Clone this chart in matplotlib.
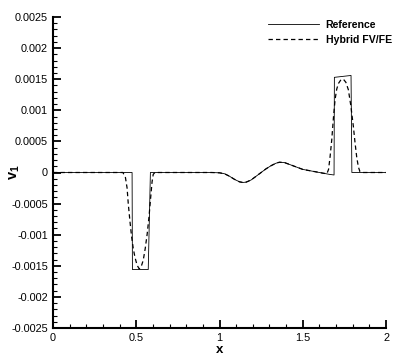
import matplotlib
matplotlib.use("Agg")
import matplotlib.pyplot as plt
from matplotlib.ticker import MultipleLocator, FixedLocator, FixedFormatter

plt.rcParams['font.family'] = ['Liberation Sans', 'DejaVu Sans']
plt.rcParams['mathtext.fontset'] = 'custom'
plt.rcParams['mathtext.rm'] = 'Liberation Sans'
plt.rcParams['mathtext.bf'] = 'Liberation Sans:bold'

# Reference solution (solid)
ref_x = [0.0, 0.475, 0.477, 0.572, 0.585, 0.95, 1.0, 1.03, 1.06, 1.09, 1.12, 1.14,
         1.16, 1.19, 1.22, 1.25, 1.28, 1.31, 1.34, 1.36, 1.39, 1.42, 1.46, 1.50,
         1.54, 1.58, 1.62, 1.66, 1.688, 1.690, 1.790, 1.795, 2.0]
ref_v = [0.0, 0.0, -0.00156, -0.00156, 0.0, 0.0, -0.000005, -0.00002, -0.00006,
         -0.00011, -0.00015, -0.00016, -0.000155, -0.00012, -0.00006, 0.0, 0.00006,
         0.00011, 0.00015, 0.000165, 0.00016, 0.00013, 0.00009, 0.00005, 0.00003,
         0.00001, -0.00001, -0.00003, -0.00004, 0.00153, 0.00156, 0.0, 0.0]

# Hybrid FV/FE solution (dashed)
fvfe_x = [0.0, 0.42, 0.435, 0.445, 0.452, 0.462, 0.472, 0.482, 0.492, 0.505, 0.518,
          0.530, 0.542, 0.554, 0.566, 0.577, 0.587, 0.595, 0.602, 0.612, 0.95, 1.0,
          1.03, 1.06, 1.09, 1.12, 1.14, 1.16, 1.19, 1.22, 1.25, 1.28, 1.31, 1.34,
          1.36, 1.39, 1.42, 1.46, 1.50, 1.54, 1.58, 1.62, 1.645, 1.655, 1.664, 1.674,
          1.684, 1.694, 1.704, 1.714, 1.729, 1.744, 1.759, 1.774, 1.789, 1.804, 1.814,
          1.824, 1.834, 1.844, 1.86, 2.0]
fvfe_v = [0.0, 0.0, -0.00008, -0.00025, -0.0005, -0.00078, -0.00103, -0.00122,
          -0.00136, -0.00149, -0.00155, -0.00151, -0.00141, -0.00122, -0.00098,
          -0.0007, -0.00039, -0.00015, -0.00003, 0.0, 0.0, -0.000005, -0.00002,
          -0.00006, -0.00011, -0.00015, -0.00016, -0.000155, -0.00012, -0.00006, 0.0,
          0.00006, 0.00011, 0.00015, 0.000165, 0.00016, 0.00013, 0.00009, 0.00005,
          0.00003, 0.00001, -0.00001, -0.00002, 0.00005, 0.00025, 0.00052, 0.00087,
          0.00117, 0.00134, 0.00143, 0.00149, 0.0015, 0.00145, 0.00133, 0.00107,
          0.00074, 0.00048, 0.00025, 0.00009, 0.00001, 0.0, 0.0]

series_labels = ["Reference", "Hybrid FV/FE"]

x_ticks = [0, 0.5, 1, 1.5, 2]
x_tick_labels = ["0", "0.5", "1", "1.5", "2"]
y_ticks = [-0.0025, -0.002, -0.0015, -0.001, -0.0005, 0, 0.0005, 0.001, 0.0015, 0.002, 0.0025]
y_tick_labels = ["-0.0025", "-0.002", "-0.0015", "-0.001", "-0.0005", "0",
                 "0.0005", "0.001", "0.0015", "0.002", "0.0025"]

fig = plt.figure(figsize=(4.07, 3.62), dpi=100)
ax = fig.add_axes([53/407, 34/362, 333/407, 311/362])

ax.plot(ref_x, ref_v, color='black', lw=0.6, label=series_labels[0])
ax.plot(fvfe_x, fvfe_v, color='black', lw=0.9, dashes=(3.5, 2.5), label=series_labels[1])

ax.set_xlim(0, 2)
ax.set_ylim(-0.0025, 0.0025)

ax.xaxis.set_major_locator(FixedLocator(x_ticks))
ax.xaxis.set_major_formatter(FixedFormatter(x_tick_labels))
ax.yaxis.set_major_locator(FixedLocator(y_ticks))
ax.yaxis.set_major_formatter(FixedFormatter(y_tick_labels))
ax.xaxis.set_minor_locator(MultipleLocator(0.1))
ax.yaxis.set_minor_locator(MultipleLocator(0.0001))

for s in ['top', 'right']:
    ax.spines[s].set_visible(False)
for s in ['left', 'bottom']:
    ax.spines[s].set_linewidth(1.5)

ax.tick_params(which='major', direction='in', length=5.5, width=1.3, labelsize=7.8, pad=3.6)
ax.tick_params(which='minor', direction='in', length=3, width=0.8)

ax.set_xlabel('x', fontsize=9.5, fontweight='bold')
ax.xaxis.set_label_coords(0.5, -0.05)
ax.set_ylabel(r'$\mathbf{v}_{\mathbf{1}}$', fontsize=10.5, fontweight='bold')
ax.yaxis.set_label_coords(-0.092, 0.5)

leg = ax.legend(loc='upper left', bbox_to_anchor=(268/407, 1 - 20/362),
                bbox_transform=fig.transFigure, frameon=False,
                prop={'size': 7.6, 'weight': 'bold'}, handlelength=4.8,
                handletextpad=0.65, labelspacing=0.45, borderpad=0, borderaxespad=0)

fig.savefig('out.png', dpi=100)
